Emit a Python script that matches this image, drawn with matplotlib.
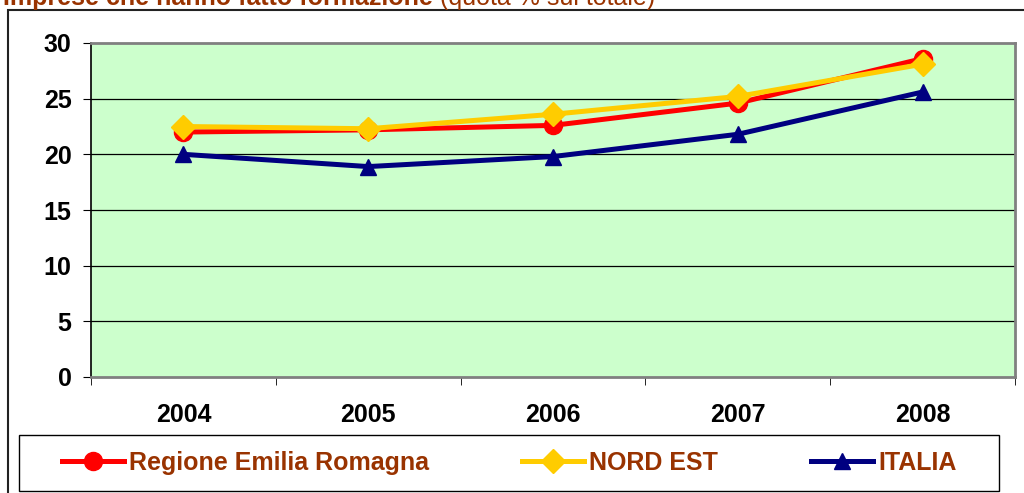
import numpy as np
import matplotlib
matplotlib.use("Agg")
import matplotlib.pyplot as plt
from matplotlib.patches import Rectangle

# dati
anni = ["2004", "2005", "2006", "2007", "2008"]
emilia = [22.0, 22.2, 22.6, 24.6, 28.6]
nord_est = [22.5, 22.3, 23.6, 25.2, 28.1]
italia = [20.0, 18.9, 19.8, 21.8, 25.6]
nomi = ["Regione Emilia Romagna", "NORD EST", "ITALIA"]
y_ticks = [0, 5, 10, 15, 20, 25, 30]

plt.rcParams['font.family'] = ['Liberation Sans', 'DejaVu Sans']
marrone = '#993300'

fig = plt.figure(figsize=(10.24, 4.93), dpi=100)
ax = fig.add_axes([91/1024, 1 - 377/493, (1015-91)/1024, (377-43)/493])
ax.set_facecolor('#CCFFCC')

x = np.arange(len(anni))
ax.plot(x, emilia, color='#FF0000', lw=3.6, marker='o', ms=13, label=nomi[0], zorder=3)
ax.plot(x, nord_est, color='#FFCC00', lw=3.6, marker='D', ms=12, label=nomi[1], zorder=4)
ax.plot(x, italia, color='#000080', lw=3.6, marker='^', ms=12, label=nomi[2], zorder=5)

ax.set_xlim(-0.5, len(anni) - 0.5)
ax.set_ylim(0, 30)
ax.set_yticks(y_ticks)
ax.set_yticklabels([str(v) for v in y_ticks], fontweight='bold', fontsize=18)
for v in y_ticks[1:-1]:
    ax.axhline(v, color='black', lw=0.9, zorder=1)

ax.set_xticks(x)
ax.set_xticklabels(anni, fontweight='bold', fontsize=18)
ax.set_xticks(np.arange(len(anni) + 1) - 0.5, minor=True)
ax.tick_params(axis='x', which='major', length=0, pad=19)
ax.tick_params(axis='x', which='minor', length=6, direction='out', color='black')
ax.tick_params(axis='y', length=6, direction='out', pad=8, color='black')

for s in ['top', 'right', 'bottom']:
    ax.spines[s].set_color('#808080')
    ax.spines[s].set_linewidth(2)
ax.spines['left'].set_color('black')
ax.spines['left'].set_linewidth(1.2)

# cornice esterna del grafico
fig.patches.append(Rectangle((8/1024, -0.05), 1.1, 1 - 10/493 + 0.05,
                             transform=fig.transFigure, fill=False,
                             edgecolor='#222222', lw=1.5))

# titolo (tagliato in alto come nell'originale)
t1 = fig.text(3/1024, 1 - 5/493, "Imprese che hanno fatto formazione", color=marrone,
              fontsize=18, fontweight='bold', va='baseline', ha='left')
fig.canvas.draw()
bb = t1.get_window_extent()
fig.text(bb.x1/1024 + 7/1024, 1 - 5/493, "(quota % sul totale)", color=marrone,
         fontsize=18, va='baseline', ha='left')

# legenda
fig.patches.append(Rectangle((19/1024, 1 - 491/493), 980/1024, 56/493,
                             transform=fig.transFigure, facecolor='white',
                             edgecolor='black', lw=1.0))
leg = fig.legend(loc='center', bbox_to_anchor=(509/1024, 1 - 463/493), ncol=3,
                 frameon=False, handlelength=2.5, handletextpad=0.2,
                 columnspacing=3.7, prop={'weight': 'bold', 'size': 18})
for txt in leg.get_texts():
    txt.set_color(marrone)

fig.savefig('out.png', dpi=100)
